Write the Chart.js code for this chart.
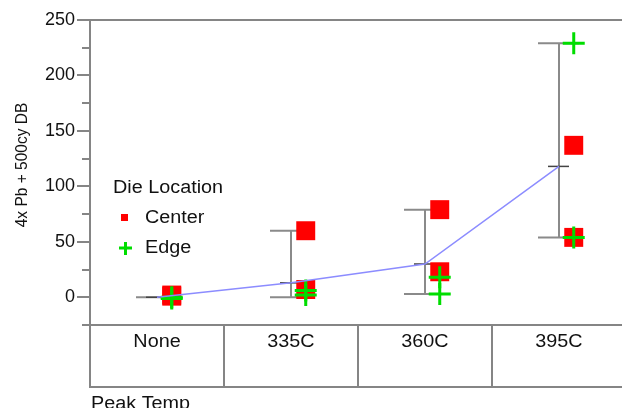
<!DOCTYPE html>
<html>
<head>
<meta charset="utf-8">
<script src="https://cdn.jsdelivr.net/npm/chart.js@4"></script>
<style>
  html, body { margin: 0; padding: 0; background: #fff; overflow: hidden; }
  #wrap { width: 640px; height: 408px; }
</style>
</head>
<body>
<div id="wrap"><canvas id="myChart" width="640" height="408"></canvas></div>
<script>
// Peak temperature groups
const categories = ['None', '335C', '360C', '395C'];

// individual die readings per group
const centerValues = [[2, 1], [60, 7], [79, 23], [137, 54]];
const edgeValues = [[0, -1], [6, 2], [18, 3], [229, 54]];

// range bar and mean per group
const rangeLow = [0, 0, 3, 54];
const rangeHigh = [0, 60, 79, 229];
const meanValues = [0, 13, 30, 118];

const yTicks = [-25, 0, 25, 50, 75, 100, 125, 150, 175, 200, 225, 250];

const FAMILY = 'Liberation Sans, Arial, sans-serif';
const FONT = { family: FAMILY, size: 18 };
const TEXT_COLOR = '#111';
const AXIS_GRAY = '#858585';
const POINT_SHIFT = 0.11;
const STRETCH = 1.1;

function toPoints(groups) {
    const pts = [];
    groups.forEach((vals, i) => vals.forEach(v => pts.push({ x: i + POINT_SHIFT, y: v })));
    return pts;
}

// slightly wide text, like the old plot export
function wideText(ctx, text, x, y, rotate) {
    ctx.save();
    ctx.translate(x, y);
    if (rotate) {
        ctx.rotate(-Math.PI / 2);
        ctx.scale(1, STRETCH);
    } else {
        ctx.scale(STRETCH, 1);
    }
    ctx.fillText(text, 0, 0);
    ctx.restore();
}

// frame, ticks, category box, range bars and legend
const framePlugin = {
    id: 'frame',
    beforeDatasetsDraw(chart) {
        const { ctx, chartArea, scales } = chart;
        const x = scales.x, y = scales.y;
        ctx.save();
        ctx.strokeStyle = AXIS_GRAY;
        ctx.lineWidth = 2;
        // top border
        ctx.beginPath();
        ctx.moveTo(chartArea.left, chartArea.top);
        ctx.lineTo(chartArea.right, chartArea.top);
        ctx.stroke();
        // left axis down through the category box
        const boxBottom = chartArea.bottom + 62;
        ctx.beginPath();
        ctx.moveTo(chartArea.left, chartArea.top - 1);
        ctx.lineTo(chartArea.left, boxBottom + 1);
        ctx.stroke();
        // y ticks, long for labelled values
        yTicks.forEach(v => {
            const py = Math.round(y.getPixelForValue(v));
            const len = v % 50 === 0 ? 13 : 8;
            ctx.beginPath();
            ctx.moveTo(chartArea.left - len, py);
            ctx.lineTo(chartArea.left, py);
            ctx.stroke();
        });
        // category box
        ctx.beginPath();
        ctx.moveTo(chartArea.left, chartArea.bottom);
        ctx.lineTo(chartArea.right, chartArea.bottom);
        ctx.moveTo(chartArea.left, boxBottom);
        ctx.lineTo(chartArea.right, boxBottom);
        for (let i = 1; i < categories.length; i++) {
            const px = Math.round(x.getPixelForValue(i - 0.5));
            ctx.moveTo(px, chartArea.bottom);
            ctx.lineTo(px, boxBottom);
        }
        ctx.stroke();
        ctx.fillStyle = TEXT_COLOR;
        ctx.font = FONT.size + 'px ' + FAMILY;
        ctx.textAlign = 'center';
        ctx.textBaseline = 'middle';
        categories.forEach((c, i) => wideText(ctx, c, x.getPixelForValue(i), chartArea.bottom + 17));
        ctx.textAlign = 'left';
        ctx.textBaseline = 'top';
        wideText(ctx, 'Peak Temp', chartArea.left + 1, boxBottom + 8);

        // y axis title
        ctx.font = '15.5px ' + FAMILY;
        ctx.textAlign = 'center';
        ctx.textBaseline = 'middle';
        wideText(ctx, '4x Pb + 500cy DB', 22, 165, true);

        // range bars with caps
        categories.forEach((c, i) => {
            const px = Math.round(x.getPixelForValue(i));
            const lo = y.getPixelForValue(rangeLow[i]);
            const hi = y.getPixelForValue(rangeHigh[i]);
            ctx.strokeStyle = '#8a8a8a';
            ctx.lineWidth = 2;
            ctx.beginPath();
            ctx.moveTo(px, lo);
            ctx.lineTo(px, hi);
            ctx.moveTo(px - 21, lo);
            ctx.lineTo(px + 20, lo);
            ctx.moveTo(px - 21, hi);
            ctx.lineTo(px + 20, hi);
            ctx.stroke();
            const pm = y.getPixelForValue(meanValues[i]);
            ctx.strokeStyle = '#444';
            ctx.lineWidth = 1.5;
            ctx.beginPath();
            ctx.moveTo(px - 11, pm);
            ctx.lineTo(px + 10, pm);
            ctx.stroke();
        });

        // legend
        ctx.font = FONT.size + 'px ' + FAMILY;
        ctx.fillStyle = TEXT_COLOR;
        ctx.textAlign = 'left';
        ctx.textBaseline = 'middle';
        wideText(ctx, 'Die Location', 113, 188);
        wideText(ctx, 'Center', 145, 218);
        wideText(ctx, 'Edge', 145, 248);
        ctx.fillStyle = '#ff0000';
        ctx.fillRect(121, 214, 7, 7);
        ctx.strokeStyle = '#00dd00';
        ctx.lineWidth = 3;
        ctx.beginPath();
        ctx.moveTo(119, 248);
        ctx.lineTo(132, 248);
        ctx.moveTo(125.5, 242);
        ctx.lineTo(125.5, 255);
        ctx.stroke();
        ctx.restore();
    }
};

const ctx = document.getElementById('myChart').getContext('2d');
const myChart = new Chart(ctx, {
    type: 'scatter',
    data: {
        datasets: [{
            label: 'Center',
            data: toPoints(centerValues),
            pointStyle: 'rect',
            pointRadius: 13.4,
            pointBackgroundColor: '#ff0000',
            pointBorderWidth: 0,
            order: 3
        },
        {
            label: 'Edge',
            data: toPoints(edgeValues),
            pointStyle: 'cross',
            pointRadius: 11,
            pointBorderColor: '#00dd00',
            pointBorderWidth: 3,
            order: 2
        },
        {
            label: 'Mean',
            type: 'line',
            data: meanValues.map((v, i) => ({ x: i, y: v })),
            borderColor: '#8c8cff',
            borderWidth: 1.5,
            pointRadius: 0,
            fill: false,
            order: 1
        }
        ]
    },
    options: {
        responsive: false,
        animation: false,
        events: [],
        layout: { padding: { top: 20, bottom: 83, right: 6, left: 0 } },
        plugins: {
            legend: { display: false },
            tooltip: { enabled: false }
        },
        scales: {
            x: {
                type: 'linear',
                display: false,
                min: -0.5,
                max: 3.5
            },
            y: {
                min: -25,
                max: 250,
                afterFit: (scale) => {
                    scale.width = 90;
                    scale.paddingTop = 0;
                    scale.paddingBottom = 0;
                },
                border: { display: false },
                grid: { display: false, drawTicks: false },
                ticks: {
                    stepSize: 50,
                    padding: 15,
                    color: TEXT_COLOR,
                    font: FONT,
                    callback: (v) => (v >= 0 ? v : '')
                }
            }
        }
    },
    plugins: [framePlugin]
});
</script>
</body>
</html>
